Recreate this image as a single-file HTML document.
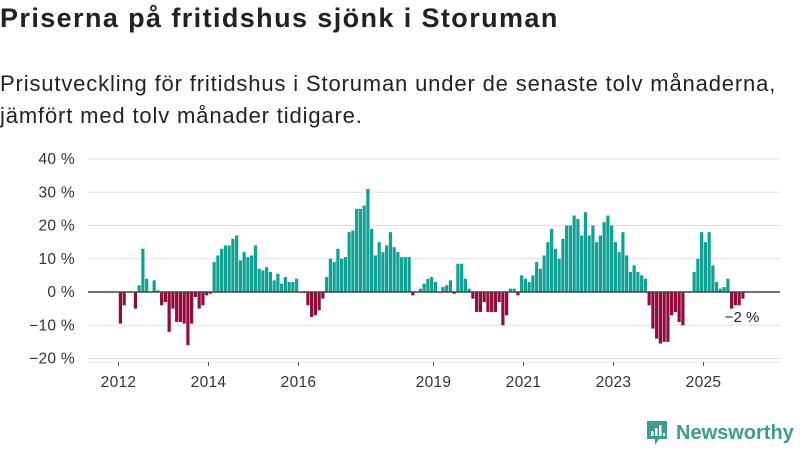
<!DOCTYPE html>
<html><head><meta charset="utf-8">
<style>
body{margin:0;width:800px;height:450px;background:#fff;overflow:hidden;font-family:"Liberation Sans",sans-serif;color:#222;}
#title{position:absolute;left:0;top:3px;font-size:27px;letter-spacing:1.4px;font-weight:bold;margin:0;white-space:nowrap;}
#sub{position:absolute;left:0;top:68px;font-size:22px;letter-spacing:0.85px;line-height:32px;margin:0;color:#222;white-space:nowrap;}
svg{position:absolute;left:0;top:0;}
</style></head><body>
<h1 id="title">Priserna på fritidshus sjönk i Storuman</h1>
<p id="sub">Prisutveckling för fritidshus i Storuman under de senaste tolv månaderna,<br>jämfört med tolv månader tidigare.</p>
<svg id="chart" width="800" height="450"></svg>
<script>
const yTicks=[40,30,20,10,0,-10,-20];
const yTickLabels=["40 %","30 %","20 %","10 %","0 %","−10 %","−20 %"];
const xYears=[2012,2014,2016,2019,2021,2023,2025];
const xYearLabels=["2012","2014","2016","2019","2021","2023","2025"];
const startYear=2012;
const values=[-9.5,-4,null,null,-5,2,13,4,null,3.5,0.5,-4,
-3,-12,-5,-9,-9,-9.5,-16,-9.5,-1.5,-5,-4,-1,
-0.5,9,11,13,14,14,16,17,9.5,12,10.5,11,
14,7,6.5,7.5,6,3.5,5.5,2.5,4.5,3,3,4,
null,-0.3,-4,-7.5,-7,-5.5,-2,4.5,10,9,13,10,
10.5,18,18.5,25,25,26,31,19,11,15,12,14,
18,13.5,12,10.5,10.5,10.5,-1,null,1,2.5,4,4.5,
3,null,1.5,2,3.5,-0.5,8.5,8.5,4,1,-2,-6,
-6,-3,-6,-6,-6,-3,-10,-7,1,1,-1,5,
4,3,5,9,7,11,15,19,13,10,16,20,
20,23,22,17,24,17,20,15,17,21,23,20,
15,12,18,11,6,8,6,5,4,-4,-11,-14,
-15.5,-15,-15,-7,-6,-9,-10,null,null,6,10,18,
15,18,8,3,1,1.5,4,-5,-4,-4,-2];
const lastLabel="−2 %";

const svg=document.getElementById('chart');
const NS="http://www.w3.org/2000/svg";
const y0=292, pxPer=3.325;
function yS(v){return y0-v*pxPer;}
function xS(m){return 118.5+m*3.75;}
function mk(tag,attrs){const e=document.createElementNS(NS,tag);for(const k in attrs)e.setAttribute(k,attrs[k]);svg.appendChild(e);return e;}
yTicks.forEach((t,i)=>{
  if(t!==0){const g=mk('line',{x1:88,x2:780,y1:yS(t),y2:yS(t),stroke:'#e0e0e0','stroke-width':1});
  
  }
  const l=mk('text',{x:75,y:yS(t)+5,'text-anchor':'end','font-size':15.5,'letter-spacing':0.3,fill:'#333','font-family':'Liberation Sans, sans-serif'});
  l.textContent=yTickLabels[i];
  
  
});
const base=mk('line',{x1:88,x2:780,y1:362,y2:362,stroke:'#e0e0e0','stroke-width':1});


values.forEach((v,i)=>{
  if(v===null)return;
  const top=Math.min(yS(v),y0),h=Math.abs(yS(v)-y0);
  const b=mk('rect',{x:xS(i)+0.3,y:top,width:3.2,height:Math.max(h,0.8),fill:v>=0?'#10a195':'#930a3e'});
  
  
});
const zl=mk('line',{x1:88,x2:780,y1:y0,y2:y0,stroke:'#444','stroke-width':1.6});


xYears.forEach((yr,i)=>{
  const x=xS((yr-startYear)*12);
  const t=mk('line',{x1:x,x2:x,y1:362,y2:366,stroke:'#555','stroke-width':1});
  
  
  const l=mk('text',{x:x,y:387,'text-anchor':'middle','font-size':15.5,'letter-spacing':0.3,fill:'#333','font-family':'Liberation Sans, sans-serif'});
  l.textContent=xYearLabels[i];
  
  
});
const lastI=values.length-1;
const ann=mk('text',{x:xS(lastI)+1,y:322,'text-anchor':'middle','font-size':15,fill:'#222','font-family':'Liberation Sans, sans-serif',stroke:'#fff','stroke-width':3,'paint-order':'stroke'});
ann.textContent=lastLabel;


</script>
<div style="position:absolute;left:645px;top:419px;height:28px;display:flex;align-items:center;">
  <svg width="24" height="28" viewBox="0 0 24 28" style="position:static">
    <path d="M2 2h20v18h-8l-4 6v-6H2z" fill="#3a9d8f"/>
    <rect x="6" y="12" width="2.5" height="5" fill="#fff"/><rect x="10" y="9" width="2.5" height="8" fill="#fff"/><rect x="14" y="6" width="2.5" height="11" fill="#fff"/><rect x="18" y="14" width="2" height="3" fill="#fff"/>
  </svg>
  <span style="margin-left:7px;font-size:20px;font-weight:bold;color:#3a9d8f;">Newsworthy</span>
</div>
</body></html>
